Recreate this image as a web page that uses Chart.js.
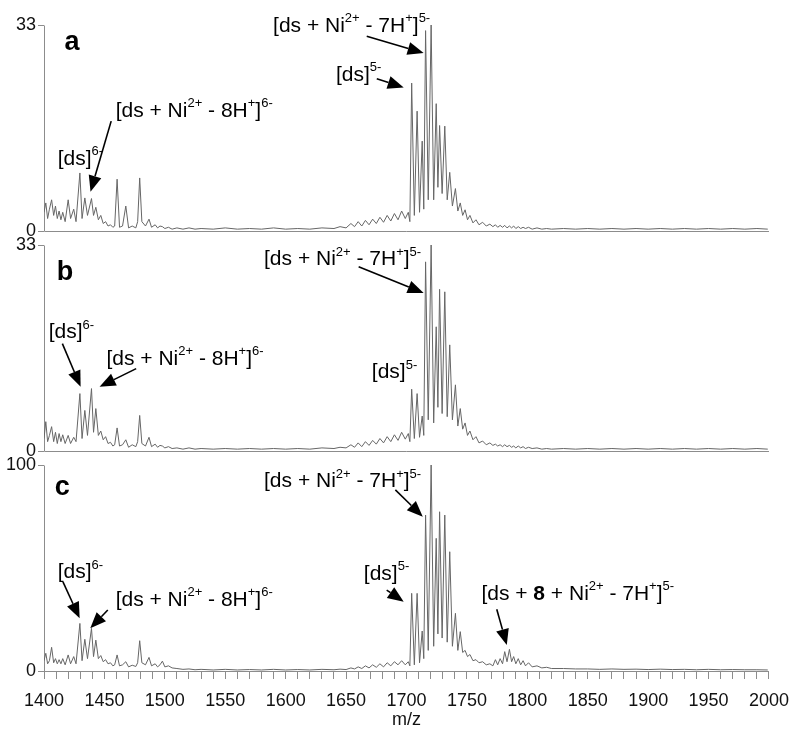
<!DOCTYPE html>
<html>
<head>
<meta charset="utf-8">
<script src="https://cdn.jsdelivr.net/npm/chart.js@4.4.1/dist/chart.umd.min.js"></script>
<style>
  html, body { margin: 0; padding: 0; background: #fff; }
  #wrap { width: 800px; height: 731px; position: relative; }
</style>
</head>
<body>
<div id="wrap"><canvas id="spectra"></canvas></div>
<script>
// m/z positions shared by the three spectra (peaks and valleys)
const mz = [
  1400, 1401.5, 1403, 1404.5, 1406.3, 1408, 1409.5, 1411, 1412.5, 1414,
  1415.5, 1417.5, 1420, 1422, 1424.6, 1426.5, 1429.7, 1431.5, 1433.8, 1436,
  1439.3, 1441, 1442.9, 1445, 1447, 1449, 1451, 1453, 1455, 1457,
  1458.5, 1460.5, 1462.5, 1465, 1467.7, 1470, 1473, 1476, 1477.5, 1479.2,
  1481, 1484, 1486.9, 1489, 1492, 1494, 1496, 1498, 1500, 1503,
  1506, 1510, 1515, 1520, 1525, 1530, 1540, 1550, 1560, 1570,
  1580, 1590, 1600, 1610, 1620, 1630, 1640, 1645, 1650, 1654,
  1657, 1660, 1663, 1666, 1669, 1672, 1675, 1678, 1681, 1684,
  1687, 1690, 1693, 1696, 1699, 1701.5, 1702.8, 1704.3, 1706.5, 1708.8,
  1710.8, 1713, 1714.3, 1715.8, 1718, 1720.4, 1722.5, 1724.6, 1726, 1727.4,
  1729.5, 1731.7, 1733.7, 1735.8, 1738, 1740.5, 1742.5, 1744.5, 1746.5, 1748.5,
  1750.5, 1752.5, 1755, 1757.5, 1760, 1763, 1766, 1769, 1771.5, 1773.6,
  1775.5, 1777.5, 1779.5, 1781.3, 1783.2, 1785.2, 1787, 1788.7, 1790.5, 1792.5,
  1794.5, 1796.5, 1798.5, 1801, 1804, 1808, 1812, 1816, 1820, 1830,
  1840, 1850, 1860, 1870, 1880, 1890, 1900, 1910, 1920, 1930,
  1940, 1950, 1960, 1970, 1980, 1990, 1999
];

// panel a
const intensityA = [
  3, 4.5, 2, 3.5, 5, 2.5, 4, 2, 3.2, 1.8,
  3, 1.5, 5, 2, 3.5, 1.5, 9.3, 2, 5.3, 2.5,
  5.2, 2.5, 3.8, 1.8, 2.5, 1.2, 1.5, 0.8, 1, 0.6,
  0.8, 8.3, 0.6, 0.8, 4, 0.5, 0.8, 0.5, 1.5, 8.5,
  1.5, 0.8, 1.9, 0.6, 1, 0.5, 0.8, 0.7, 0.4, 0.6,
  0.3, 0.5, 0.3, 0.5, 0.3, 0.4, 0.3, 0.5, 0.3, 0.4,
  0.3, 0.5, 0.3, 0.4, 0.3, 0.5, 0.4, 0.7, 0.5, 1.2,
  0.7, 1.5, 0.8, 1.7, 1, 1.9, 1.2, 2.2, 1.4, 2.5,
  1.6, 2.8, 1.8, 3.2, 2, 3, 1.5, 23.7, 2.5, 19.2,
  3, 14.4, 3.5, 32.1, 5, 33, 5, 20.4, 7, 16.9,
  6, 16.8, 5, 9.4, 4, 6.8, 3.2, 4.5, 2.5, 3.4,
  1.8, 2.5, 1.3, 1.8, 1, 1.4, 0.8, 1.1, 0.7, 1,
  0.6, 0.9, 0.6, 0.9, 0.5, 0.8, 0.5, 0.8, 0.4, 0.7,
  0.4, 0.6, 0.4, 0.6, 0.3, 0.5, 0.3, 0.4, 0.3, 0.4,
  0.3, 0.4, 0.3, 0.4, 0.3, 0.4, 0.3, 0.4, 0.3, 0.4,
  0.3, 0.4, 0.3, 0.4, 0.3, 0.4, 0.3
];

// panel b
const intensityB = [
  2, 4.7, 1.5, 2.5, 3.9, 1.5, 3, 1.2, 2.8, 1.5,
  2.6, 1.2, 2.5, 1.2, 2.2, 1.5, 9.2, 2, 6.5, 2.5,
  10, 3, 6.8, 2.5, 3.2, 1.8, 2.3, 1.2, 1.4, 0.8,
  1, 3.7, 0.8, 1, 1.8, 0.6, 1, 0.7, 1.5, 5.7,
  1.2, 0.8, 2.2, 0.7, 1.1, 0.6, 0.9, 0.8, 0.5, 0.7,
  0.4, 0.5, 0.3, 0.5, 0.3, 0.4, 0.3, 0.4, 0.3, 0.4,
  0.3, 0.4, 0.3, 0.4, 0.3, 0.5, 0.4, 0.6, 0.5, 1,
  0.6, 1.3, 0.7, 1.5, 0.9, 1.7, 1.1, 2, 1.3, 2.3,
  1.5, 2.6, 1.7, 3, 1.9, 2.8, 1.5, 9.9, 2, 9.2,
  2.2, 5.6, 2.5, 30.3, 5, 33, 4.5, 19.9, 7, 25.9,
  6, 25.5, 5.5, 17, 5, 10.6, 4, 6.8, 3.5, 4.5,
  2.5, 3.2, 1.8, 2.3, 1.3, 1.6, 1, 1.3, 0.9, 1.1,
  0.8, 1, 0.7, 1, 0.7, 0.9, 0.6, 0.8, 0.5, 0.8,
  0.5, 0.7, 0.4, 0.6, 0.4, 0.5, 0.3, 0.4, 0.3, 0.4,
  0.3, 0.4, 0.3, 0.4, 0.3, 0.4, 0.3, 0.4, 0.3, 0.4,
  0.3, 0.4, 0.3, 0.4, 0.3, 0.4, 0.3
];

// panel c
const intensityC = [
  5, 8.6, 3.5, 5, 11.5, 4, 6, 3.5, 5.5, 3.5,
  6, 3, 7.8, 3.5, 7, 3.5, 23.1, 5, 15.4, 6,
  20.7, 7, 15, 6, 7.5, 4.5, 5.5, 3.5, 4, 2.5,
  3, 7.8, 2.5, 3, 4.5, 2, 2.8, 2.2, 4, 14.7,
  4, 3, 6.6, 2.5, 3.5, 2, 3, 4.8, 2, 2.5,
  1.5, 1.2, 0.8, 1, 0.6, 0.8, 0.5, 0.8, 0.5, 0.7,
  0.5, 0.8, 0.5, 0.7, 0.5, 0.8, 0.6, 0.9, 0.7, 1.5,
  1, 2, 1.2, 2.5, 1.5, 3, 1.8, 3.5, 2, 4,
  2.5, 4.5, 3, 5, 3, 4.5, 2.5, 37.7, 3, 37.7,
  4, 19.4, 6, 75.7, 10, 100, 12, 64.4, 18, 77.3,
  16, 75.7, 14, 57.9, 12, 28, 10, 19.1, 9, 10,
  7, 8, 5, 5.5, 4, 4.5, 3, 3.5, 2.5, 5.5,
  3, 6, 3.5, 9.4, 4.5, 10.5, 4.5, 7, 3.5, 6,
  3, 5, 2.5, 4, 2, 2.5, 1.5, 1.8, 1.2, 1.2,
  1, 1, 0.8, 1, 0.8, 0.9, 0.7, 0.9, 0.7, 0.8,
  0.6, 0.8, 0.6, 0.7, 0.6, 0.6, 0.5
];

const panelMax = [33, 33, 100];
const panelNames = ['a', 'b', 'c'];

// labels: text anchored at (mz, intensity), optional arrow from -> to
const labelsA = [
  { t: '[ds]^{6-}', at: [1411.3, 10.6] },
  { t: '[ds + Ni^{2+} - 8H^{+}]^{6-}', at: [1459.3, 18.3], from: [1455.6, 17.6], to: [1438.5, 6.3] },
  { t: '[ds]^{5-}', at: [1641.6, 24.1], from: [1675.4, 24.4], to: [1697.7, 23] },
  { t: '[ds + Ni^{2+} - 7H^{+}]^{5-}', at: [1589.6, 31.9], from: [1667.1, 31.2], to: [1714.2, 28.5] }
];
const labelsB = [
  { t: '[ds]^{6-}', at: [1403.9, 18.1], from: [1415.2, 17.2], to: [1430.3, 10.3] },
  { t: '[ds + Ni^{2+} - 8H^{+}]^{6-}', at: [1451.7, 13.8], from: [1476.3, 13.2], to: [1446, 10.3] },
  { t: '[ds]^{5-}', at: [1671.3, 11.7] },
  { t: '[ds + Ni^{2+} - 7H^{+}]^{5-}', at: [1582.1, 29.8], from: [1660.4, 29.5], to: [1714.2, 25.3] }
];
const labelsC = [
  { t: '[ds]^{6-}', at: [1411.3, 45.1], from: [1415.7, 43.3], to: [1429.5, 25.6] },
  { t: '[ds + Ni^{2+} - 8H^{+}]^{6-}', at: [1459.3, 31.6], from: [1452.8, 29.6], to: [1438.3, 20.7] },
  { t: '[ds]^{5-}', at: [1664.7, 44.2], from: [1683.6, 39.3], to: [1697.7, 33.6] },
  { t: '[ds + Ni^{2+} - 7H^{+}]^{5-}', at: [1582.1, 89.3], from: [1690.8, 87.9], to: [1713.5, 74.9] },
  { t: '[ds + **8** + Ni^{2+} - 7H^{+}]^{5-}', at: [1762, 34.5], from: [1774.7, 30], to: [1783, 12.6] }
];
const letterPos = [[1417, 29], [1410.5, 27.4], [1408.8, 85.4]];

const FONT = '"Liberation Sans", Arial, sans-serif';
const AXIS_GREY = '#8c8c8c';
const yIds = ['yA', 'yB', 'yC'];
const series = [intensityA, intensityB, intensityC];
const panelLabels = [labelsA, labelsB, labelsC];

function drawRich(ctx, text, x, y, size) {
  const parts = text.split(/(\^\{[^}]*\}|\*\*[^*]*\*\*)/).filter(Boolean);
  let cx = x;
  parts.forEach(p => {
    let str = p, dy = 0;
    ctx.font = size + 'px ' + FONT;
    if (p.startsWith('^{')) {
      str = p.slice(2, -1);
      ctx.font = Math.round(size * 0.64) + 'px ' + FONT;
      dy = -size * 0.45;
    } else if (p.startsWith('**')) {
      str = p.slice(2, -2);
      ctx.font = 'bold ' + size + 'px ' + FONT;
    }
    ctx.fillText(str, cx, y + dy);
    cx += ctx.measureText(str).width;
  });
}

function drawArrow(ctx, x1, y1, x2, y2) {
  const ang = Math.atan2(y2 - y1, x2 - x1);
  const len = 16, half = 6.5;
  const bx = x2 - len * Math.cos(ang), by = y2 - len * Math.sin(ang);
  ctx.beginPath();
  ctx.moveTo(x1, y1);
  ctx.lineTo(bx, by);
  ctx.stroke();
  ctx.beginPath();
  ctx.moveTo(x2, y2);
  ctx.lineTo(bx + half * Math.sin(ang), by - half * Math.cos(ang));
  ctx.lineTo(bx - half * Math.sin(ang), by + half * Math.cos(ang));
  ctx.closePath();
  ctx.fill();
}

const panelDecor = {
  id: 'panelDecor',
  beforeDatasetsDraw(chart) {
    const ctx = chart.ctx, x = chart.scales.x;
    ctx.save();
    ctx.strokeStyle = AXIS_GREY;
    ctx.lineWidth = 1;
    yIds.forEach((id, i) => {
      const s = chart.scales[id];
      const top = Math.round(s.getPixelForValue(panelMax[i])) + 0.5;
      const zero = Math.round(s.getPixelForValue(0)) + 0.5;
      ctx.beginPath();
      ctx.moveTo(x.left + 0.5, top);
      ctx.lineTo(x.left + 0.5, zero);
      if (i < 2) ctx.lineTo(x.right, zero);
      ctx.stroke();
    });
    ctx.restore();
  },
  afterDraw(chart) {
    const ctx = chart.ctx, x = chart.scales.x;
    ctx.save();
    ctx.fillStyle = '#000';
    ctx.strokeStyle = '#000';
    ctx.lineWidth = 1.6;
    ctx.textAlign = 'left';
    ctx.textBaseline = 'alphabetic';
    yIds.forEach((id, i) => {
      const s = chart.scales[id];
      const px = p => [x.getPixelForValue(p[0]), s.getPixelForValue(p[1])];
      ctx.font = 'bold 27px ' + FONT;
      const lp = px(letterPos[i]);
      ctx.fillText(panelNames[i], lp[0], lp[1]);
      panelLabels[i].forEach(l => {
        const a = px(l.at);
        drawRich(ctx, l.t, a[0], a[1], 21);
        if (l.from) {
          const f = px(l.from), t = px(l.to);
          drawArrow(ctx, f[0], f[1], t[0], t[1]);
        }
      });
    });
    ctx.restore();
  }
};

function yScale(i, weight, min) {
  return {
    type: 'linear',
    position: 'left',
    stack: 'spectra',
    stackWeight: weight,
    min: min,
    max: panelMax[i],
    border: { display: false },
    grid: { drawOnChartArea: false, drawTicks: true, tickLength: 6, color: AXIS_GREY },
    ticks: { color: '#111', padding: 2, font: { family: FONT, size: 18 } },
    afterBuildTicks: s => { s.ticks = [{ value: 0 }, { value: panelMax[i] }]; },
    afterFit: s => { s.width = 44; }
  };
}

new Chart(document.getElementById('spectra'), {
  type: 'line',
  data: {
    datasets: series.map((vals, i) => ({
      label: panelNames[i],
      data: mz.map((m, k) => ({ x: m, y: vals[k] })),
      yAxisID: yIds[i],
      borderColor: '#666666',
      borderWidth: 1,
      pointRadius: 0,
      tension: 0,
      fill: false
    }))
  },
  options: {
    responsive: true,
    maintainAspectRatio: false,
    animation: false,
    layout: { padding: { top: 25, left: 0, right: 29, bottom: 0 } },
    plugins: { legend: { display: false }, tooltip: { enabled: false } },
    scales: {
      x: {
        type: 'linear',
        min: 1400,
        max: 2000,
        border: { color: AXIS_GREY },
        grid: { drawOnChartArea: false, drawTicks: true, tickLength: 8, color: AXIS_GREY },
        ticks: {
          stepSize: 10,
          autoSkip: false,
          maxRotation: 0,
          padding: 11,
          color: '#111',
          font: { family: FONT, size: 18 },
          callback: v => (v % 50 === 0 ? String(v) : '')
        },
        title: { display: true, text: 'm/z', color: '#111', padding: { top: 0, bottom: 2 }, font: { family: FONT, size: 18, lineHeight: 1 } },
        afterFit: s => { s.height = 60; }
      },
      // stacked left axes are laid out in reverse order: c first puts a on top
      yC: yScale(2, 206, 0),
      yB: yScale(1, 220, -2.24),
      yA: yScale(0, 220, -2.24)
    }
  },
  plugins: [panelDecor]
});
</script>
</body>
</html>
